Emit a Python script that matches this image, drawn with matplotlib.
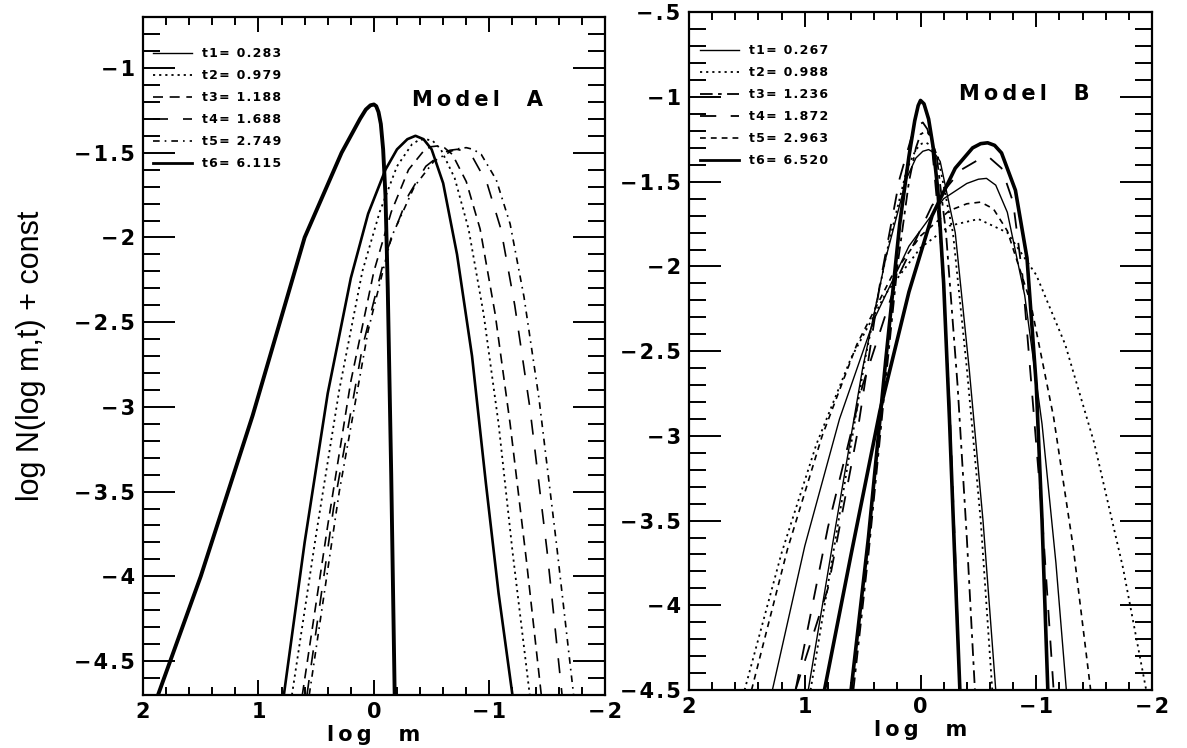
import matplotlib.pyplot as plt
from matplotlib.ticker import MultipleLocator

# ---- Model A (left panel) ----
a_labels = ["t1= 0.283", "t2= 0.979", "t3= 1.188", "t4= 1.688", "t5= 2.749", "t6= 6.115"]

a_t1_x = [0.78, 0.6, 0.4, 0.2, 0.05, -0.1, -0.2, -0.29, -0.36, -0.43, -0.5, -0.6, -0.72, -0.85, -0.97, -1.08, -1.2]
a_t1_y = [-4.7, -3.8, -2.92, -2.24, -1.86, -1.6, -1.48, -1.42, -1.40, -1.42, -1.48, -1.68, -2.1, -2.7, -3.45, -4.1, -4.7]
a_t2_x = [0.71, 0.5, 0.3, 0.1, -0.05, -0.2, -0.33, -0.39, -0.45, -0.51, -0.58, -0.7, -0.82, -0.95, -1.08, -1.2, -1.35]
a_t2_y = [-4.7, -3.75, -2.9, -2.2, -1.85, -1.58, -1.45, -1.425, -1.42, -1.43, -1.48, -1.65, -1.95, -2.45, -3.1, -3.85, -4.7]
a_t3_x = [0.62, 0.4, 0.2, 0.0, -0.15, -0.3, -0.43, -0.49, -0.55, -0.61, -0.68, -0.8, -0.92, -1.05, -1.18, -1.32, -1.45]
a_t3_y = [-4.7, -3.7, -2.85, -2.2, -1.85, -1.6, -1.49, -1.465, -1.46, -1.47, -1.51, -1.67, -1.95, -2.45, -3.1, -3.9, -4.7]
a_t4_x = [0.58, 0.35, 0.1, -0.1, -0.3, -0.45, -0.6, -0.66, -0.72, -0.78, -0.85, -0.98, -1.1, -1.22, -1.35, -1.5, -1.63]
a_t4_y = [-4.7, -3.6, -2.65, -2.1, -1.75, -1.58, -1.5, -1.485, -1.48, -1.49, -1.52, -1.68, -1.95, -2.4, -3.0, -3.85, -4.7]
a_t5_x = [0.56, 0.3, 0.05, -0.15, -0.35, -0.52, -0.67, -0.74, -0.8, -0.86, -0.93, -1.06, -1.18, -1.3, -1.43, -1.58, -1.73]
a_t5_y = [-4.7, -3.5, -2.55, -2.0, -1.7, -1.55, -1.49, -1.475, -1.47, -1.48, -1.51, -1.66, -1.92, -2.35, -2.95, -3.8, -4.7]
a_t6_x = [1.87, 1.5, 1.05, 0.6, 0.28, 0.12, 0.07, 0.03, 0.0, -0.02, -0.04, -0.06, -0.08, -0.1, -0.12, -0.15, -0.18]
a_t6_y = [-4.7, -4.0, -3.05, -2.0, -1.5, -1.3, -1.245, -1.22, -1.215, -1.225, -1.26, -1.33, -1.48, -1.75, -2.3, -3.4, -4.7]

# ---- Model B (right panel) ----
b_labels = ["t1= 0.267", "t2= 0.988", "t3= 1.236", "t4= 1.872", "t5= 2.963", "t6= 6.520"]

# broad branch (peaks near log m = -0.55)
b_t1_x = [1.28, 1.0, 0.7, 0.4, 0.1, -0.2, -0.4, -0.5, -0.57, -0.65, -0.75, -0.9, -1.05, -1.17, -1.26]
b_t1_y = [-4.5, -3.65, -2.9, -2.31, -1.88, -1.6, -1.51, -1.485, -1.48, -1.52, -1.68, -2.17, -2.93, -3.75, -4.5]
b_t2_x = [1.52, 1.2, 0.9, 0.6, 0.3, 0.0, -0.25, -0.5, -0.75, -1.0, -1.25, -1.5, -1.75, -1.95]
b_t2_y = [-4.5, -3.69, -3.05, -2.54, -2.16, -1.89, -1.76, -1.72, -1.8, -2.05, -2.46, -3.04, -3.78, -4.5]
b_t5_x = [1.46, 1.15, 0.85, 0.55, 0.25, 0.0, -0.25, -0.4, -0.52, -0.63, -0.75, -0.95, -1.15, -1.32, -1.47]
b_t5_y = [-4.5, -3.67, -3.0, -2.46, -2.06, -1.82, -1.67, -1.63, -1.62, -1.66, -1.79, -2.21, -2.89, -3.66, -4.5]
b_t4_x = [1.08, 0.8, 0.5, 0.2, -0.1, -0.35, -0.5, -0.6, -0.7, -0.8, -0.88, -0.95, -1.05, -1.15]
b_t4_y = [-4.5, -3.54, -2.7, -2.07, -1.64, -1.43, -1.37, -1.36, -1.42, -1.62, -2.05, -2.63, -3.47, -4.5]
b_t6_x = [0.83, 0.6, 0.35, 0.1, -0.1, -0.3, -0.45, -0.52, -0.58, -0.64, -0.7, -0.82, -0.92, -1.0, -1.05, -1.1]
b_t6_y = [-4.5, -3.7, -2.85, -2.15, -1.7, -1.42, -1.3, -1.275, -1.27, -1.285, -1.33, -1.55, -1.95, -2.7, -3.5, -4.5]

# narrow branch (peaks near log m = 0)
b_n1_x = [0.97, 0.75, 0.5, 0.3, 0.12, 0.04, -0.02, -0.07, -0.12, -0.17, -0.3, -0.42, -0.54, -0.65]
b_n1_y = [-4.5, -3.6, -2.6, -1.95, -1.48, -1.36, -1.32, -1.31, -1.33, -1.38, -1.8, -2.6, -3.5, -4.5]
b_n2_x = [0.95, 0.72, 0.48, 0.28, 0.12, 0.04, -0.01, -0.05, -0.1, -0.15, -0.28, -0.4, -0.52, -0.62]
b_n2_y = [-4.5, -3.55, -2.55, -1.88, -1.43, -1.31, -1.275, -1.27, -1.29, -1.35, -1.8, -2.6, -3.5, -4.5]
b_n3_x = [0.58, 0.45, 0.32, 0.2, 0.1, 0.04, 0.0, -0.05, -0.09, -0.14, -0.22, -0.32, -0.4, -0.47]
b_n3_y = [-4.5, -3.7, -2.8, -2.0, -1.5, -1.3, -1.22, -1.2, -1.23, -1.35, -1.8, -2.7, -3.6, -4.5]
b_n4_x = [1.08, 0.8, 0.55, 0.35, 0.18, 0.08, 0.03, -0.02, -0.06, -0.1, -0.18, -0.25, -0.3, -0.34]
b_n4_y = [-4.5, -3.9, -3.0, -2.1, -1.48, -1.24, -1.17, -1.15, -1.19, -1.3, -1.9, -2.8, -3.7, -4.5]
b_n6_x = [0.6, 0.45, 0.3, 0.18, 0.1, 0.05, 0.02, 0.0, -0.03, -0.07, -0.11, -0.15, -0.2, -0.25, -0.3, -0.34]
b_n6_y = [-4.5, -3.6, -2.55, -1.75, -1.35, -1.14, -1.05, -1.02, -1.04, -1.13, -1.3, -1.55, -2.1, -2.9, -3.8, -4.5]

A_STYLES = [
    dict(ls="-", lw=1.9),
    dict(ls=(0, (1.2, 2.2)), lw=1.3),
    dict(ls=(0, (6, 4)), lw=1.2),
    dict(ls=(0, (9, 9)), lw=1.2),
    dict(ls=(0, (4, 3, 1, 3)), lw=1.2),
    dict(ls="-", lw=2.8),
]
B_STYLES = [
    dict(ls="-", lw=1.0),
    dict(ls=(0, (1.2, 2.2)), lw=1.3),
    dict(ls=(0, (7, 3, 2, 3)), lw=1.3),
    dict(ls=(0, (9, 8)), lw=1.3),
    dict(ls=(0, (3.5, 3)), lw=1.2),
    dict(ls="-", lw=2.6),
]

HAIR = "\u200a"
LABEL_FONT = dict(family="DejaVu Sans", weight="bold", size=15)


def spread(s):
    return HAIR.join(s)


def style_axes(ax, ylo, yhi, yticks, ylabels):
    ax.set_xlim(2, -2)
    ax.set_ylim(ylo, yhi)
    ax.set_xticks([2, 1, 0, -1, -2])
    ax.set_xticklabels([spread(s) for s in ["2", "1", "0", "\u22121", "\u22122"]],
                       fontdict=LABEL_FONT)
    ax.xaxis.set_minor_locator(MultipleLocator(0.2))
    ax.set_yticks(yticks)
    ax.set_yticklabels([spread(s) for s in ylabels], fontdict=LABEL_FONT)
    ax.yaxis.set_minor_locator(MultipleLocator(0.1))
    ax.tick_params(which="both", direction="in", top=True, right=True, color="black", width=1.4)
    ax.tick_params(axis="x", which="major", length=11, pad=5)
    ax.tick_params(axis="x", which="minor", length=5.5)
    ax.tick_params(axis="y", which="major", length=23, pad=6)
    ax.tick_params(axis="y", which="minor", length=12)
    for s in ax.spines.values():
        s.set_linewidth(1.6)
    ax.set_xlabel("\u2009".join("log  m"), fontdict=LABEL_FONT, labelpad=2)


fig = plt.figure(figsize=(11.87, 7.48), dpi=100)
axA = fig.add_axes([0.1205, 0.071, 0.389, 0.906])
axB = fig.add_axes([0.5805, 0.0775, 0.390, 0.906])

a_curves = [(a_t1_x, a_t1_y), (a_t2_x, a_t2_y), (a_t3_x, a_t3_y),
            (a_t4_x, a_t4_y), (a_t5_x, a_t5_y), (a_t6_x, a_t6_y)]
for (x, y), st, lab in zip(a_curves, A_STYLES, a_labels):
    axA.plot(x, y, color="black", label=spread(lab), solid_joinstyle="round", **st)

b_curves = [(b_t1_x, b_t1_y), (b_t2_x, b_t2_y), (b_n3_x, b_n3_y),
            (b_t4_x, b_t4_y), (b_t5_x, b_t5_y), (b_t6_x, b_t6_y)]
for (x, y), st, lab in zip(b_curves, B_STYLES, b_labels):
    axB.plot(x, y, color="black", label=spread(lab), solid_joinstyle="round", **st)
axB.plot(b_n1_x, b_n1_y, color="black", **B_STYLES[0])
axB.plot(b_n2_x, b_n2_y, color="black", **B_STYLES[1])
axB.plot(b_n4_x, b_n4_y, color="black", **B_STYLES[3])
axB.plot(b_n6_x, b_n6_y, color="black", solid_joinstyle="round", **B_STYLES[5])

yA = [-1, -1.5, -2, -2.5, -3, -3.5, -4, -4.5]
style_axes(axA, -4.7, -0.7, yA, ["\u2212" + f"{abs(v):g}" for v in yA])
yB = [-0.5, -1, -1.5, -2, -2.5, -3, -3.5, -4, -4.5]
style_axes(axB, -4.5, -0.5, yB,
           ["\u2212.5"] + ["\u2212" + f"{abs(v):g}" for v in yB[1:]])

axA.set_ylabel("log N(log m,t) + const", family="Liberation Sans", size=22)
axA.yaxis.set_label_coords(-0.21, 0.5)

leg_font = dict(family="DejaVu Sans", weight="bold", size=9)
for ax, anchor in ((axA, (0.022, 0.956)), (axB, (0.024, 0.953))):
    leg = ax.legend(loc="upper left", bbox_to_anchor=anchor, frameon=False, prop=leg_font,
                    handlelength=3.1, handletextpad=0.8, labelspacing=0.72,
                    borderpad=0, borderaxespad=0)
    leg.get_lines()[0].set_linewidth(1.0)
    leg.get_lines()[5].set_linewidth(2.0)

axA.text(-0.9, -1.19, "\u2009".join("Model  A"), ha="center", va="center",
         family="DejaVu Sans", weight="bold", size=15)
axB.text(-0.9, -0.98, "\u2009".join("Model  B"), ha="center", va="center",
         family="DejaVu Sans", weight="bold", size=15)

fig.savefig("out.png", dpi=100)
